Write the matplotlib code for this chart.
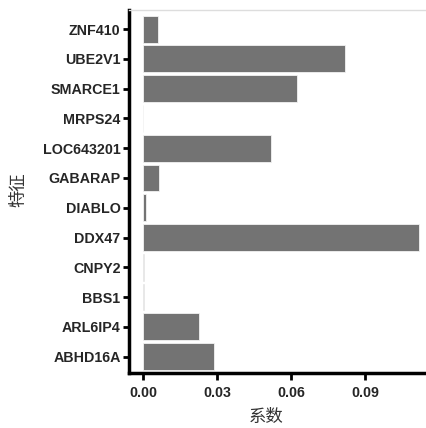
import matplotlib
matplotlib.use("Agg")
import matplotlib.pyplot as plt

features = ["ZNF410", "UBE2V1", "SMARCE1", "MRPS24", "LOC643201", "GABARAP",
            "DIABLO", "DDX47", "CNPY2", "BBS1", "ARL6IP4", "ABHD16A"]
coefs = [0.0061, 0.0819, 0.0623, 0.0, 0.0517, 0.0062,
         0.0011, 0.1120, 0.0002, 0.0002, 0.0227, 0.0287]
xticks = [0.00, 0.03, 0.06, 0.09]
xtick_labels = ["0.00", "0.03", "0.06", "0.09"]

plt.rcParams["font.family"] = ["Liberation Sans", "DejaVu Sans"]

fig = plt.figure(figsize=(4.27, 4.28), dpi=100)
ax = fig.add_axes([0.302, 0.1285, 0.698, 0.848])

ypos = list(range(len(features)))[::-1]
ax.barh(ypos, coefs, height=0.9, color="#737373", edgecolor="#f2f2f2", linewidth=0.6)

ax.set_xlim(-0.0058, 0.1152)
ax.set_ylim(-0.55, 11.64)
ax.set_yticks(ypos)
ax.set_yticklabels(features)
ax.set_xticks(xticks)
ax.set_xticklabels(xtick_labels)

for lab in ax.get_yticklabels() + ax.get_xticklabels():
    lab.set_fontsize(10.3)
    lab.set_fontweight("bold")
    lab.set_color("#262626")

ax.spines["right"].set_visible(False)
ax.spines["top"].set_color("#dddddd")
ax.spines["top"].set_linewidth(1)
for s in ["left", "bottom"]:
    ax.spines[s].set_linewidth(2.5)
    ax.spines[s].set_color("black")
ax.tick_params(axis="y", length=4, width=2, color="black", pad=2)
ax.tick_params(axis="x", length=5, width=2, color="black", pad=4)

cjk = ["Noto Sans CJK SC", "DejaVu Sans"]
ax.set_xlabel("系数", family=cjk, fontsize=12.5, fontweight="light", color="#333333")
ax.set_ylabel("特征", family=cjk, fontsize=12.5, fontweight="light", color="#333333")
ax.xaxis.set_label_coords(0.461, -0.097)
ax.yaxis.set_label_coords(-0.34, 0.504)

fig.savefig("out.png", dpi=100)
